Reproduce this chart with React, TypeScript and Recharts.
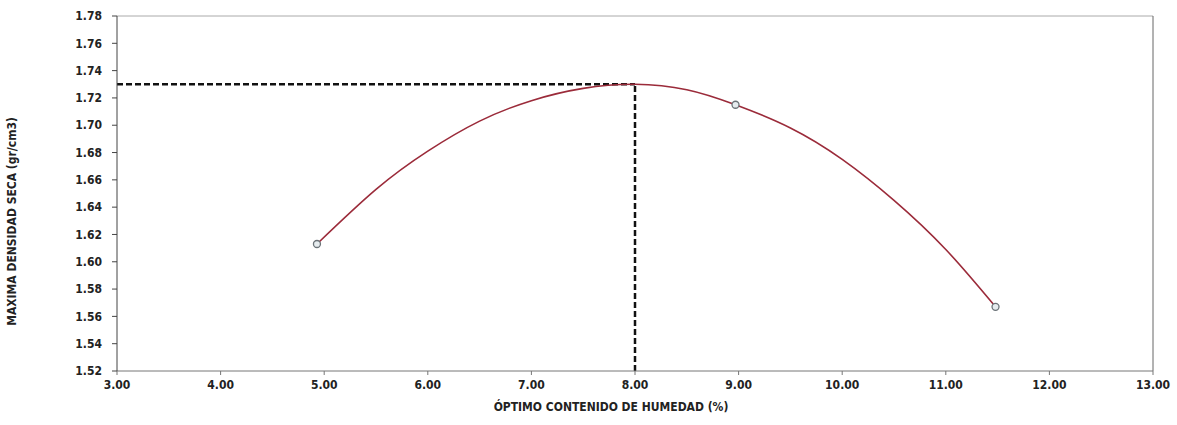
import {
  ComposedChart,
  Line,
  Scatter,
  XAxis,
  YAxis,
  ReferenceLine,
  Label,
} from 'recharts';

// humedad (%) vs densidad seca (gr/cm3)
const humedadMedida = [4.93, 8.97, 11.48];
const densidadMedida = [1.613, 1.715, 1.567];

// curva de ajuste
const humedadCurva = [4.93, 5.5, 6.0, 6.5, 7.0, 7.5, 8.0, 8.5, 8.97, 9.5, 10.0, 10.5, 11.0, 11.48];
const densidadCurva = [1.613, 1.653, 1.681, 1.703, 1.718, 1.727, 1.73, 1.726, 1.715, 1.698, 1.675, 1.645, 1.609, 1.567];

const optimoHumedad = 8.0;
const maxDensidad = 1.73;

const xTicks = [3, 4, 5, 6, 7, 8, 9, 10, 11, 12, 13];
const yTicks = [1.52, 1.54, 1.56, 1.58, 1.6, 1.62, 1.64, 1.66, 1.68, 1.7, 1.72, 1.74, 1.76, 1.78];

const curva = humedadCurva.map((x, i) => ({ x, y: densidadCurva[i] }));
const puntos = humedadMedida.map((x, i) => ({ x, y: densidadMedida[i] }));

const font = '"Liberation Sans Narrow", "DejaVu Sans Condensed", "Liberation Sans", Arial, sans-serif';
const tickStyle = { fontFamily: font, fontSize: 12, fontWeight: 700, fill: '#222' };

export default function App() {
  return (
    <div style={{ position: 'absolute', left: 0, top: 0, background: '#fff' }}>
      <ComposedChart
        width={1177}
        height={425}
        margin={{ top: 16, right: 24, bottom: 0, left: 0 }}
      >
        <XAxis
          dataKey="x"
          type="number"
          domain={[3, 13]}
          ticks={xTicks}
          tickFormatter={(v: number) => v.toFixed(2)}
          tick={tickStyle}
          tickSize={4}
          tickMargin={5}
          height={54}
          stroke="#777"
          allowDataOverflow
        >
          <Label
            value="ÓPTIMO CONTENIDO DE HUMEDAD (%)"
            position="insideBottom"
            offset={14}
            dx={-24}
            style={{ fontFamily: font, fontSize: 12, fontWeight: 700, fill: '#222' }}
          />
        </XAxis>
        <YAxis
          type="number"
          domain={[1.52, 1.78]}
          ticks={yTicks}
          tickFormatter={(v: number) => v.toFixed(2)}
          tick={tickStyle}
          tickSize={5}
          tickMargin={10}
          width={117}
          stroke="#444"
          allowDataOverflow
        >
          <Label
            value="MAXIMA DENSIDAD SECA (gr/cm3)"
            angle={-90}
            position="insideLeft"
            offset={12}
            dy={28}
            style={{ fontFamily: font, fontSize: 12, fontWeight: 700, fill: '#222', textAnchor: 'middle' }}
          />
        </YAxis>
        <ReferenceLine y={1.78} stroke="#aaa" strokeWidth={1} ifOverflow="extendDomain" />
        <ReferenceLine x={13} stroke="#666" strokeWidth={1} />
        <ReferenceLine
          segment={[
            { x: 3, y: maxDensidad },
            { x: optimoHumedad, y: maxDensidad },
          ]}
          stroke="#111"
          strokeWidth={2.5}
          strokeDasharray="6 3"
        />
        <ReferenceLine
          segment={[
            { x: optimoHumedad, y: 1.52 },
            { x: optimoHumedad, y: maxDensidad },
          ]}
          stroke="#111"
          strokeWidth={2.5}
          strokeDasharray="6 3"
        />
        <Line
          data={curva}
          dataKey="y"
          type="natural"
          stroke="#9b2b3a"
          strokeWidth={1.6}
          dot={false}
          isAnimationActive={false}
        />
        <Scatter
          data={puntos}
          dataKey="y"
          isAnimationActive={false}
          shape={(p: any) => (
            <circle cx={p.cx} cy={p.cy} r={3.5} fill="#e6ecef" stroke="#6b7378" strokeWidth={1.3} />
          )}
        />
      </ComposedChart>
    </div>
  );
}
